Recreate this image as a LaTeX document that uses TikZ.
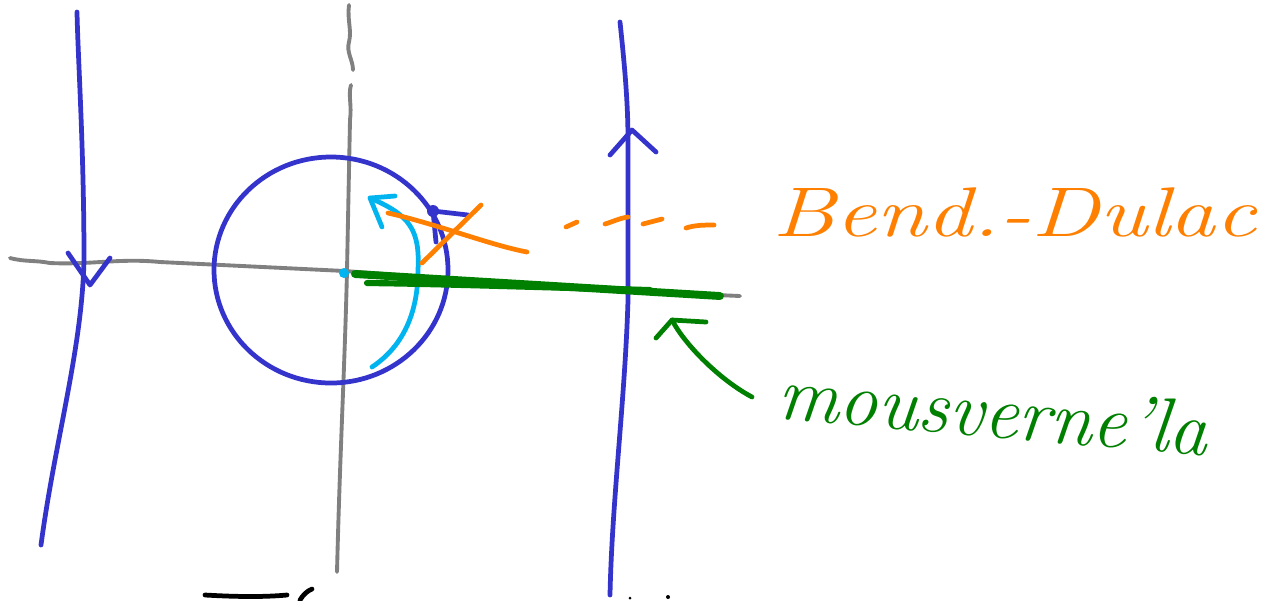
\documentclass[tikz,border=0pt]{standalone}
\usetikzlibrary{calc}
\definecolor{penblue}{RGB}{52,52,204}
\definecolor{pengray}{RGB}{128,128,128}
\definecolor{penorange}{RGB}{255,128,0}
\definecolor{pengreen}{RGB}{0,128,0}
\definecolor{pencyan}{RGB}{0,180,240}
\tikzset{
  pen/.style={line width=2.7pt, line cap=round, line join=round},
  blueink/.style={pen, draw=penblue},
  grayink/.style={pen, draw=pengray, line width=2.2pt},
  orangeink/.style={pen, draw=penorange},
  greenink/.style={pen, draw=pengreen},
  cyanink/.style={pen, draw=pencyan},
  blackink/.style={pen, draw=black},
  handtext/.style={inner sep=0pt, anchor=west, font=\fontsize{40}{40}\selectfont\itshape}
}
\begin{document}
\begin{tikzpicture}[x=0.02cm, y=-0.02cm]
\useasboundingbox (0,0) rectangle (1270,600);
\fill[white] (0,0) rectangle (1270,600);

% gray axes
\draw[grayink] (349,5) .. controls (347,20) and (352,30) .. (349,42) .. controls (346,52) and (353,60) .. (353,70);
\draw[grayink] (351,85) .. controls (348,95) and (352,105) .. (350,120) -- (347,270) .. controls (345,360) and (340,450) .. (337,572);
\draw[grayink] (10,258) .. controls (25,262) and (35,260) .. (50,263) .. controls (90,265) and (120,258) .. (160,262) -- (345,271) -- (600,290) -- (740,296);

% left blue line with down arrow
\draw[blueink] (77,12) .. controls (78,60) and (84,150) .. (84,260) .. controls (82,350) and (55,440) .. (41,545);
\coordinate (lt) at (90,285);
\draw[blueink] (68,253) -- (lt) -- (110,258);

% right blue line with up arrow
\draw[blueink] (620,22) .. controls (624,60) and (628,100) .. (628,140) -- (628,300) .. controls (625,400) and (612,500) .. (610,595);
\coordinate (rt) at (632,130);
\draw[blueink] (610,155) -- (rt) -- (656,152);

% blue circle
\draw[blueink] (331,270) ellipse [x radius=117, y radius=113];
\coordinate (ct) at (433,211);
\fill[penblue] (ct) circle (6);
\draw[blueink] (ct) -- (468,215);
\draw[blueink] (ct) -- (436,242);

% cyan arrow
\coordinate (cs) at (372,367);
\coordinate (ce) at (370,198);
\draw[cyanink] (cs) .. controls (405,345) and (418,310) .. (418,270) .. controls (420,230) and (410,215) .. (ce);
\draw[cyanink] (382,227) -- (ce) -- (395,196);
\fill[pencyan] (344,273) circle (5);

% orange cross
\draw[orangeink] (388,213) .. controls (440,225) and (490,245) .. (527,252);
\draw[orangeink] (422,263) -- (481,205);
% orange dashes
\draw[orangeink] (566,227) -- (577,222);
\draw[orangeink] (605,224) .. controls (612,222) and (620,218) .. (628,217);
\draw[orangeink] (643,224) -- (662,219);
\draw[orangeink] (686,228) .. controls (695,225) and (705,225) .. (714,225);
\node[handtext, text=penorange, xscale=1.3] (bd) at (772,212) {Bend.-Dulac};

% green thick segment
\draw[greenink, line width=4.5pt] (355,274) -- (720,296);
\draw[greenink, line width=3.5pt] (367,283) .. controls (450,284) and (560,288) .. (650,290);
\draw[greenink, line width=3pt] (400,280) -- (700,294);

% green arrow
\coordinate (gt) at (672,320);
\coordinate (gs) at (752,397);
\draw[greenink] (gs) .. controls (720,380) and (685,345) .. (gt);
\draw[greenink] (656,338) -- (gt) -- (706,322);
\node[handtext, text=pengreen, font=\fontsize{44}{44}\selectfont\itshape, rotate=-5] (mv) at (778,392) {mousverne'la};

% black bottom strokes
\draw[blackink] (205,595) .. controls (240,597) and (265,597) .. (287,595);
\draw[blackink] (300,600) .. controls (303,595) and (307,591) .. (312,589);
\fill[black] (630,598) circle (1.5);
\fill[black] (668,597) circle (2);
\end{tikzpicture}
\end{document}
